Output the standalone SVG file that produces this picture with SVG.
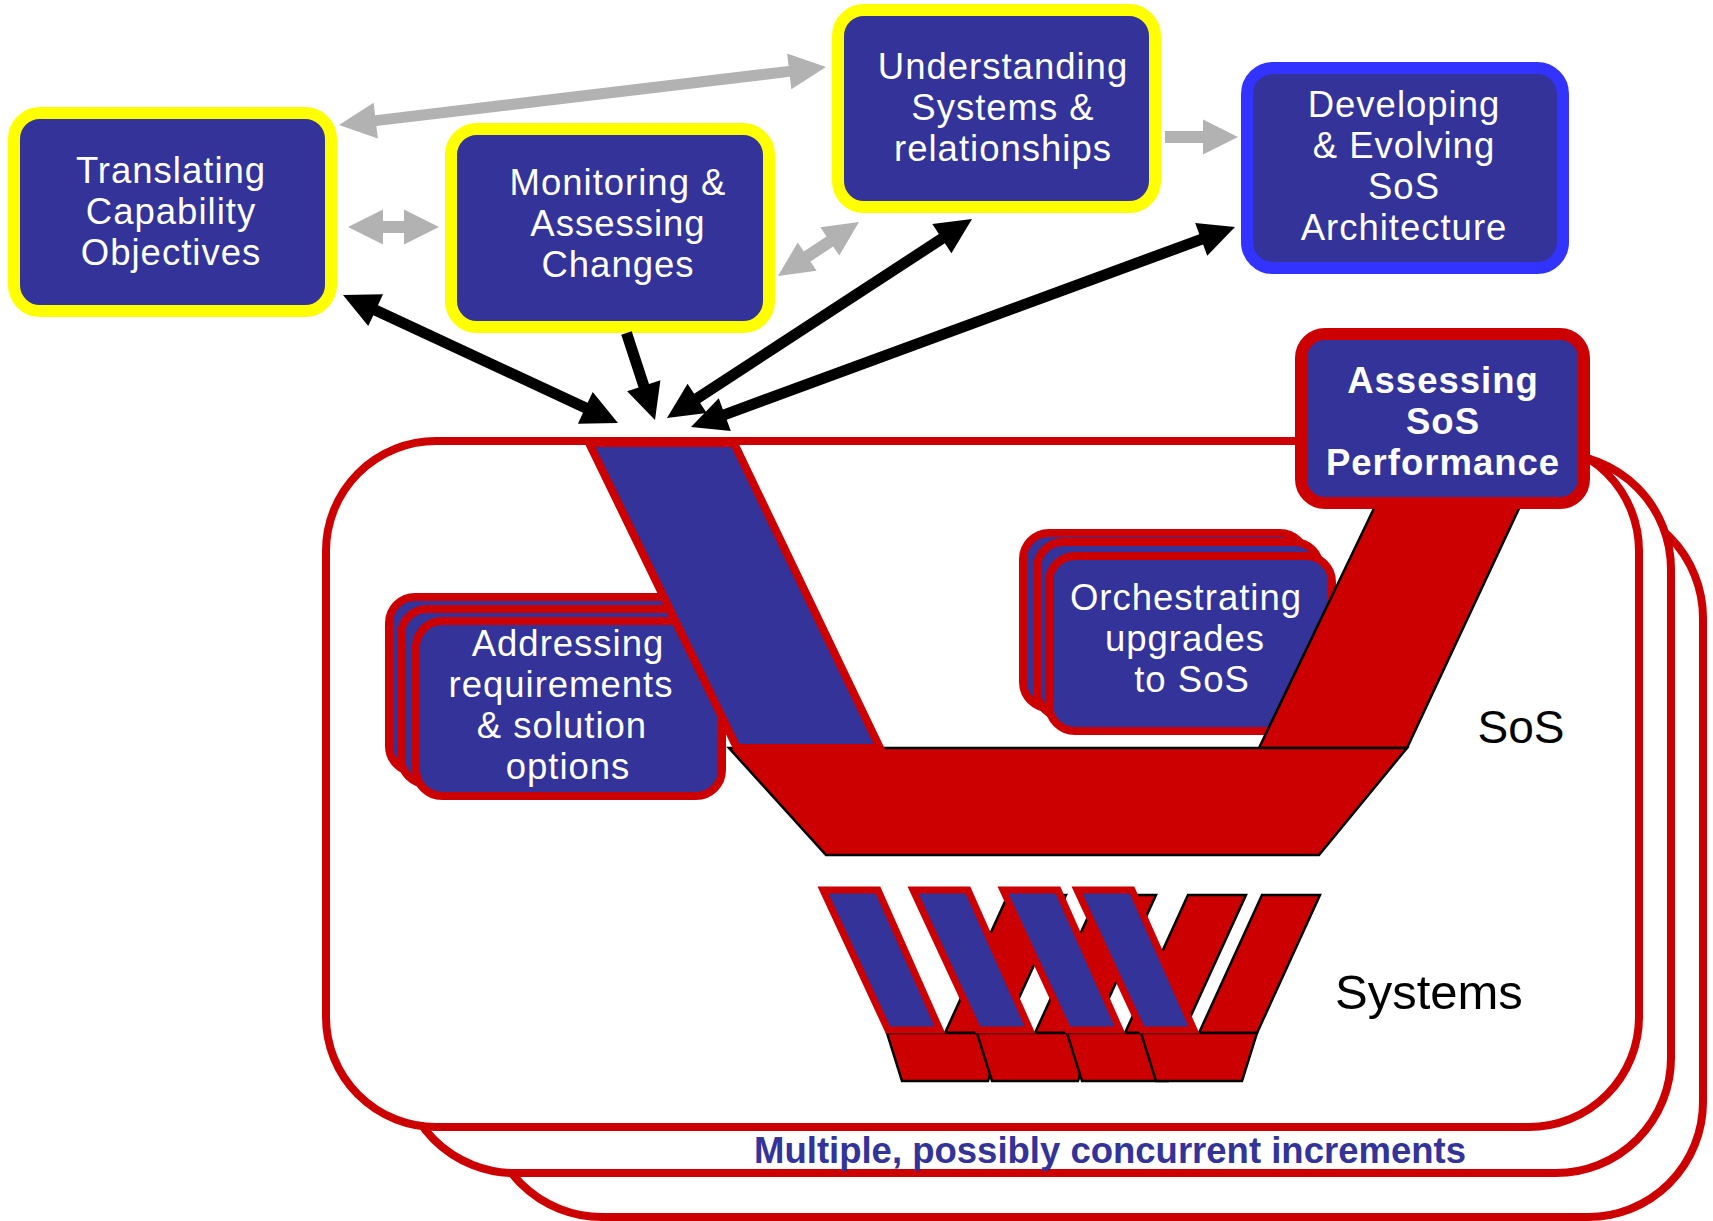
<svg xmlns="http://www.w3.org/2000/svg" width="1713" height="1221" viewBox="0 0 1713 1221">
<style>
.lbl{font-family:"Liberation Sans",Arial,sans-serif;font-size:36.5px;letter-spacing:1px;fill:#fff;text-anchor:middle}
.bold{font-weight:bold}
.ybox{fill:#333399;stroke:#ffff00;stroke-width:12}
.bbox{fill:#333399;stroke:#3333ff;stroke-width:12}
.rbox{fill:#333399;stroke:#cc0000;stroke-width:12}
.sbox{fill:#333399;stroke:#cc0000;stroke-width:8}
.inc{fill:#fff;stroke:#cc0000;stroke-width:8}
.red{fill:#cc0000;stroke:#000;stroke-width:2.5}
.blue{fill:#333399;stroke:#cc0000;stroke-width:8}
.blue2{fill:#333399;stroke:#cc0000;stroke-width:7}
.grey{fill:#b2b2b2}
.blk{fill:#000}
.tag{font-family:"Liberation Sans",Arial,sans-serif;fill:#000}
.multi{font-family:"Liberation Sans",Arial,sans-serif;font-weight:bold;font-size:36.5px;fill:#333399;text-anchor:middle}
</style>
<defs>
<g id="wedge">
<polygon class="red" points="126,1033 184,1033 247,895 189,895"/>
<polygon class="red" points="68,1033 184,1033 169,1081 83,1081"/>
<polygon class="blue2" points="4,890 59,890 121,1030 69,1030"/>
</g>
</defs>
<rect width="1713" height="1221" fill="#fff"/>

<g id="increments">
<rect class="inc" x="487" y="503" width="1216" height="714" rx="115"/>
<rect class="inc" x="400" y="454" width="1271" height="719" rx="115"/>
<rect class="inc" x="326" y="441" width="1313" height="686" rx="110"/>
</g>

<g id="addressing">
<rect class="sbox" x="389" y="597" width="306" height="175" rx="26"/>
<rect class="sbox" x="401" y="609" width="306" height="175" rx="26"/>
<rect class="sbox" x="416" y="621" width="306" height="175" rx="26"/>
<text class="lbl"><tspan x="568" y="656">Addressing</tspan><tspan x="561" y="697">requirements</tspan><tspan x="562" y="738">&amp; solution</tspan><tspan x="568" y="779">options</tspan></text>
</g>

<g id="orchestrating">
<rect class="sbox" x="1023" y="533" width="283" height="175" rx="26"/>
<rect class="sbox" x="1037" y="542" width="283" height="175" rx="26"/>
<rect class="sbox" x="1049" y="556" width="283" height="175" rx="26"/>
<text class="lbl"><tspan x="1186" y="610">Orchestrating</tspan><tspan x="1185" y="651">upgrades</tspan><tspan x="1192" y="692">to SoS</tspan></text>
</g>

<g id="sos-vee">
<polygon class="red" points="1378,500 1523,500 1407,748 1259,748"/>
<polygon class="red" points="729,748 1407,748 1319,855 826,855"/>
<polygon class="blue" points="589,443 734,443 880,748 737,748"/>
</g>

<g id="systems-vees">
<use href="#wedge" x="819"/>
<use href="#wedge" x="909"/>
<use href="#wedge" x="999"/>
<use href="#wedge" x="1073"/>
</g>

<g id="labels">
<text class="tag" x="1521" y="743" font-size="46" text-anchor="middle">SoS</text>
<text class="tag" x="1335" y="1009" font-size="49">Systems</text>
<text class="multi" x="1110" y="1163">Multiple, possibly concurrent increments</text>
</g>

<g id="assessing">
<rect class="rbox" x="1301" y="334" width="283" height="169" rx="24"/>
<text class="lbl bold"><tspan x="1443" y="393">Assessing</tspan><tspan x="1443" y="434">SoS</tspan><tspan x="1443" y="475">Performance</tspan></text>
</g>

<g id="translating">
<rect class="ybox" x="14" y="113" width="317" height="198" rx="26"/>
<text class="lbl"><tspan x="171" y="183">Translating</tspan><tspan x="171" y="224">Capability</tspan><tspan x="171" y="265">Objectives</tspan></text>
</g>

<g id="monitoring">
<rect class="ybox" x="451" y="129" width="318" height="198" rx="26"/>
<text class="lbl"><tspan x="618" y="195">Monitoring &amp;</tspan><tspan x="618" y="236">Assessing</tspan><tspan x="618" y="277">Changes</tspan></text>
</g>

<g id="understanding">
<rect class="ybox" x="838" y="10" width="317" height="197" rx="26"/>
<text class="lbl"><tspan x="1003" y="79">Understanding</tspan><tspan x="1003" y="120">Systems &amp;</tspan><tspan x="1003" y="161">relationships</tspan></text>
</g>

<g id="developing">
<rect class="bbox" x="1247" y="68" width="316" height="200" rx="26"/>
<text class="lbl"><tspan x="1404" y="117">Developing</tspan><tspan x="1404" y="158">&amp; Evolving</tspan><tspan x="1404" y="199">SoS</tspan><tspan x="1404" y="240">Architecture</tspan></text>
</g>

<g id="connectors">
<polygon class="grey" transform="translate(339,125) rotate(-6.79)" points="0,0 37,-18 37,-5.5 453.4,-5.5 453.4,-18 490.4,0 453.4,18 453.4,5.5 37,5.5 37,18"/>
<polygon class="grey" transform="translate(348,227)" points="0,0 35,-17.5 35,-6 56,-6 56,-17.5 91,0 56,17.5 56,6 35,6 35,17.5"/>
<polygon class="grey" transform="translate(778,276) rotate(-33.69)" points="0,0 35,-17 35,-6 62.3,-6 62.3,-17 97.3,0 62.3,17 62.3,6 35,6 35,17"/>
<polygon class="grey" transform="translate(1165,137)" points="0,-6 38,-6 38,-17.5 73,0 38,17.5 38,6 0,6"/>
<polygon class="blk" transform="translate(343,295) rotate(24.96)" points="0,0 36,-17.5 36,-5.5 267.3,-5.5 267.3,-17.5 303.3,0 267.3,17.5 267.3,5.5 36,5.5 36,17.5"/>
<polygon class="blk" transform="translate(626.5,333) rotate(71.86)" points="0,-5.5 55.5,-5.5 55.5,-17.5 91.5,0 55.5,17.5 55.5,5.5 0,5.5"/>
<polygon class="blk" transform="translate(667,418) rotate(-33.12)" points="0,0 36,-17.5 36,-5.5 328.2,-5.5 328.2,-17.5 364.2,0 328.2,17.5 328.2,5.5 36,5.5 36,17.5"/>
<polygon class="blk" transform="translate(691,427) rotate(-20.19)" points="0,0 36,-17.5 36,-5.5 543.6,-5.5 543.6,-17.5 579.6,0 543.6,17.5 543.6,5.5 36,5.5 36,17.5"/>
</g>
</svg>
